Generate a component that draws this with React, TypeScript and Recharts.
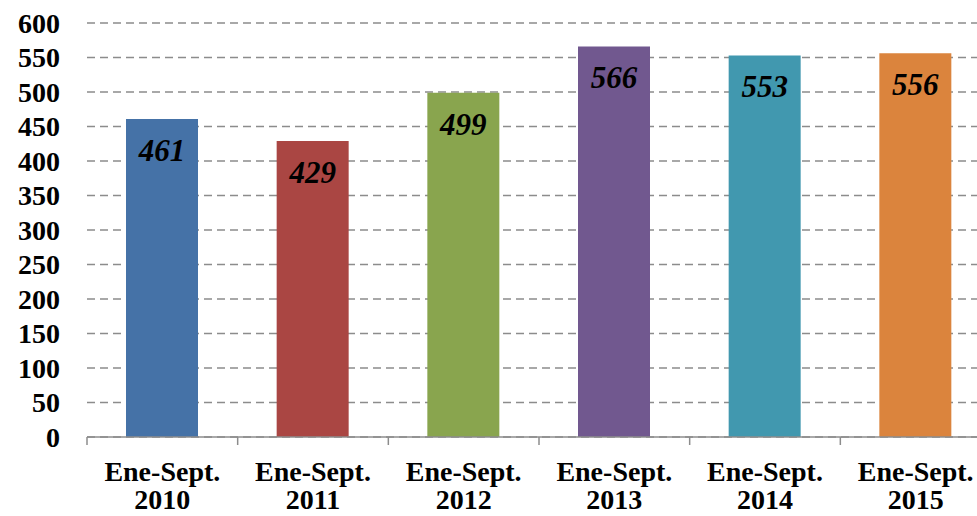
import React from "react";
import { BarChart, Bar, XAxis, YAxis, CartesianGrid, Cell, LabelList } from "recharts";

// Ene-Sept. totals per year
const YEARS = ["2010", "2011", "2012", "2013", "2014", "2015"];
const VALUES = [461, 429, 499, 566, 553, 556];
const COLORS = ["#4572A7", "#AA4643", "#89A54E", "#71588F", "#4198AF", "#DB843D"];
const Y_TICKS = [0, 50, 100, 150, 200, 250, 300, 350, 400, 450, 500, 550, 600];

const DATA = YEARS.map((y, i) => ({ name: y, value: VALUES[i] }));

const W = 991;
const H = 516;
const Y_W = 87;
const BAND = (W - Y_W) / YEARS.length;
const SERIF = "'Times New Roman', 'Liberation Serif', 'DejaVu Serif', serif";

const XTick = (props: any) => {
  const { x, y, payload, index } = props;
  const last = index === YEARS.length - 1;
  return (
    <g>
      <line x1={x - BAND / 2} y1={y} x2={x - BAND / 2} y2={y + 8} stroke="#8c8c8c" strokeWidth={1.5} />
      {last && <line x1={x + BAND / 2} y1={y} x2={x + BAND / 2} y2={y + 8} stroke="#8c8c8c" strokeWidth={1.5} />}
      <text x={x} y={y + 44} textAnchor="middle" style={{ fontFamily: SERIF, fontWeight: "bold", fontSize: 28, fill: "#000" }}>
        Ene-Sept.
      </text>
      <text x={x} y={y + 72} textAnchor="middle" style={{ fontFamily: SERIF, fontWeight: "bold", fontSize: 28, fill: "#000" }}>
        {payload.value}
      </text>
    </g>
  );
};

export default function App() {
  return (
    <div style={{ position: "absolute", left: 0, top: 0, width: 977, height: 516, overflow: "hidden", background: "#fff", fontFamily: SERIF }}>
      <BarChart width={W} height={H} data={DATA} margin={{ top: 23, right: 0, bottom: 0, left: 0 }} barSize={72}>
        <CartesianGrid horizontal vertical={false} stroke="#8c8c8c" strokeWidth={1.5} strokeDasharray="8 5" />
        <YAxis
          width={Y_W}
          domain={[0, 600]}
          ticks={Y_TICKS}
          interval={0}
          axisLine={false}
          tickLine={false}
          tickSize={0}
          tickMargin={27}
          tick={{ fontSize: 28, fontWeight: "bold", fill: "#000", fontFamily: SERIF }}
        />
        <XAxis
          dataKey="name"
          height={79}
          interval={0}
          tickLine={false}
          tickSize={0}
          tickMargin={0}
          axisLine={{ stroke: "#8c8c8c", strokeWidth: 1.5 }}
          tick={<XTick />}
        />
        <Bar dataKey="value" isAnimationActive={false}>
          {DATA.map((d, i) => (
            <Cell key={d.name} fill={COLORS[i]} />
          ))}
          <LabelList
            dataKey="value"
            position="insideTop"
            offset={20}
            style={{ fontSize: 31, fontWeight: "bold", fontStyle: "italic", fill: "#000", fontFamily: SERIF }}
          />
        </Bar>
      </BarChart>
    </div>
  );
}
